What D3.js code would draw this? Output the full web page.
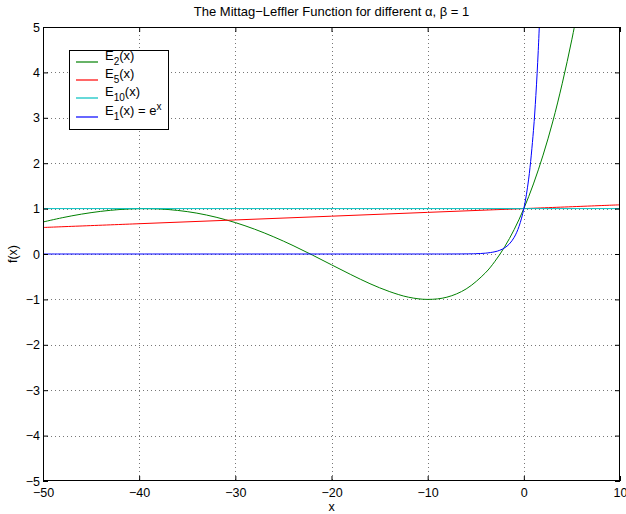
<!DOCTYPE html>
<html>
<head>
<meta charset="utf-8">
<script src="https://cdn.jsdelivr.net/npm/d3@7"></script>
<style>
  body { margin: 0; background: #fff; }
  text { font-family: "Liberation Sans", Arial, Helvetica, sans-serif; fill: #000; }
</style>
</head>
<body>
<div id="chart-container"></div>
<script>
// Data
const xTicks = [-50, -40, -30, -20, -10, 0, 10];
const yTicks = [-5, -4, -3, -2, -1, 0, 1, 2, 3, 4, 5];

// E_2(x)
const e2X = [-50, -48, -46, -44, -42, -40, -38, -36, -34, -32, -30, -28, -26, -24, -22, -20, -18, -16, -14, -12, -10, -8, -6, -4, -3, -2, -1, 0, 1, 2, 3, 4, 5, 6];
const e2Y = [0.705, 0.799, 0.878, 0.939, 0.980, 0.999, 0.993, 0.960, 0.900, 0.810, 0.692, 0.547, 0.377, 0.186, -0.022, -0.238, -0.452, -0.654, -0.825, -0.951, -1.000, -0.951, -0.770, -0.416, -0.160, 0.156, 0.540, 1.000, 1.543, 2.178, 2.908, 3.762, 4.731, 5.83];
// E_5(x)
const e5X = [-50, -40, -30, -20, -10, 0, 10];
const e5Y = [0.584, 0.667, 0.750, 0.833, 0.917, 1.000, 1.083];
// E_10(x)
const e10X = [-50, 10];
const e10Y = [1.0, 1.0];
// E_1(x) = e^x
const e1X = [-50, -10, -8, -6, -5, -4, -3, -2.5, -2, -1.5, -1, -0.5, 0, 0.5, 1, 1.25, 1.5, 1.75];
const e1Y = [0, 0.00005, 0.0003, 0.0025, 0.0067, 0.018, 0.050, 0.082, 0.135, 0.223, 0.368, 0.607, 1.000, 1.649, 2.718, 3.490, 4.482, 5.755];

const seriesSubs = ["2", "5", "10", "1"];
const seriesColors = ["#008000", "#ff0000", "#00bfbf", "#0000ff"];

// Set Width & Height
const width = 626, height = 514;
const margin = {top: 27, right: 6, bottom: 33, left: 43};

const svg = d3.select("#chart-container").append("svg")
  .attr("width", width).attr("height", height);

// Scales
const x = d3.scaleLinear().domain([-50, 10]).range([margin.left, width - margin.right]);
const y = d3.scaleLinear().domain([-5, 5]).range([height - margin.bottom, margin.top]);

// Clip
svg.append("clipPath").attr("id", "plot-clip")
  .append("rect")
    .attr("x", margin.left).attr("y", margin.top)
    .attr("width", width - margin.left - margin.right)
    .attr("height", height - margin.top - margin.bottom);

// GRID
const grid = svg.append("g").attr("id", "grid")
  .attr("stroke", "#777").attr("stroke-width", 1).attr("stroke-dasharray", "1,3");
grid.selectAll(".vgrid")
  .data(xTicks.slice(1, -1))
  .join("line")
    .attr("x1", d => Math.round(x(d)) + 0.5).attr("x2", d => Math.round(x(d)) + 0.5)
    .attr("y1", margin.top).attr("y2", height - margin.bottom);
grid.selectAll(".hgrid")
  .data(yTicks.slice(1, -1))
  .join("line")
    .attr("y1", d => Math.round(y(d)) + 0.5).attr("y2", d => Math.round(y(d)) + 0.5)
    .attr("x1", margin.left).attr("x2", width - margin.right);

// LINES
const line = d3.line()
  .x(d => x(d[0]))
  .y(d => y(d[1]))
  .curve(d3.curveCatmullRom);

const series = [
  d3.zip(e2X, e2Y),
  d3.zip(e5X, e5Y),
  d3.zip(e10X, e10Y),
  d3.zip(e1X, e1Y)
];

svg.append("g").attr("clip-path", "url(#plot-clip)")
  .selectAll("path")
  .data(series)
  .join("path")
    .attr("fill", "none")
    .attr("stroke", (d, i) => seriesColors[i])
    .attr("stroke-width", 1)
    .attr("d", line);

// AXES (ticks inside, on all four sides)
const tickLen = 5;
svg.append("g")
  .attr("transform", `translate(0,${height - margin.bottom})`)
  .call(d3.axisBottom(x).tickValues(xTicks).tickSizeInner(-tickLen).tickSizeOuter(0).tickPadding(7))
  .call(g => g.select(".domain").remove())
  .call(g => g.selectAll("text").attr("font-size", 12.5).attr("font-family", "Liberation Sans, Arial, sans-serif"));
svg.append("g")
  .attr("transform", `translate(0,${margin.top})`)
  .call(d3.axisTop(x).tickValues(xTicks).tickSizeInner(-tickLen).tickSizeOuter(0).tickFormat(""))
  .call(g => g.select(".domain").remove());
svg.append("g")
  .attr("transform", `translate(${margin.left},0)`)
  .call(d3.axisLeft(y).tickValues(yTicks).tickSizeInner(-tickLen).tickSizeOuter(0).tickPadding(3))
  .call(g => g.select(".domain").remove())
  .call(g => g.selectAll("text").attr("font-size", 12.5).attr("font-family", "Liberation Sans, Arial, sans-serif"));
svg.append("g")
  .attr("transform", `translate(${width - margin.right},0)`)
  .call(d3.axisRight(y).tickValues(yTicks).tickSizeInner(-tickLen).tickSizeOuter(0).tickFormat(""))
  .call(g => g.select(".domain").remove());

// Box
svg.append("rect")
  .attr("x", margin.left + 0.5).attr("y", margin.top + 0.5)
  .attr("width", width - margin.left - margin.right - 1)
  .attr("height", height - margin.top - margin.bottom - 1)
  .attr("fill", "none").attr("stroke", "#000").attr("stroke-width", 1);

// TITLE & LABELS
svg.append("text")
  .attr("x", (x(-50) + x(10)) / 2).attr("y", 16)
  .attr("text-anchor", "middle").attr("font-size", 13)
  .text("The Mittag\u2212Leffler Function for different \u03b1, \u03b2 = 1");
svg.append("text")
  .attr("x", (x(-50) + x(10)) / 2).attr("y", 511)
  .attr("text-anchor", "middle").attr("font-size", 12.5)
  .text("x");
svg.append("text")
  .attr("transform", `translate(17,${y(0)}) rotate(-90)`)
  .attr("text-anchor", "middle").attr("font-size", 12.5)
  .text("f(x)");

// LEGEND
const legend = svg.append("g").attr("id", "legend");
legend.append("rect")
  .attr("x", 69.5).attr("y", 50.5).attr("width", 99).attr("height", 79)
  .attr("fill", "#fff").attr("stroke", "#000").attr("stroke-width", 1);

const rowY = [62, 80, 98, 117];
const legendRows = seriesSubs.map((s, i) => ({sub: s, color: seriesColors[i], ly: rowY[i], last: i === 3}));

const item = legend.selectAll("g.item")
  .data(legendRows)
  .join("g").attr("class", "item");
item.append("line")
  .attr("x1", 76).attr("x2", 98)
  .attr("y1", d => d.ly).attr("y2", d => d.ly)
  .style("stroke", d => d.color).style("stroke-width", "1.2px");
const label = item.append("text")
  .attr("x", 105).attr("y", d => d.ly - 2)
  .attr("font-size", 13);
label.append("tspan").text("E");
label.append("tspan").attr("font-size", 10).attr("dy", 5).text(d => d.sub);
label.append("tspan").attr("dy", -5).text(d => d.last ? "(x) = e" : "(x)");
label.filter(d => d.last)
  .append("tspan").attr("font-size", 10).attr("dy", -5).text("x");
</script>
</body>
</html>
